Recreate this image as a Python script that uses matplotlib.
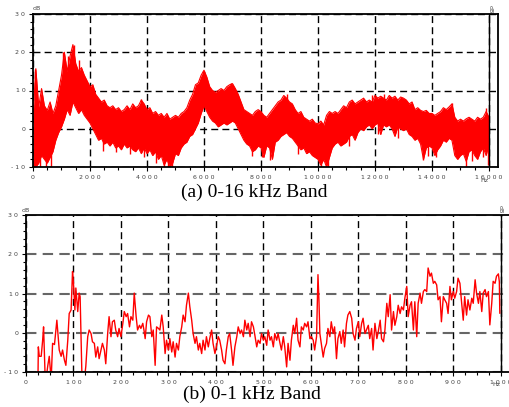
import matplotlib
matplotlib.use('Agg')
import matplotlib.pyplot as plt
from matplotlib.ticker import MultipleLocator
import numpy as np

# (a) 0-16 kHz: upper / lower edge of the red band, one value every 100 Hz
band_f = np.arange(0, 16001, 100)
band_hi = [
    3, 15.7, 5.7, 10.5, 6, 4.8, 7, 4, 6, 10,
    14, 20, 15, 19, 22, 17, 15, 16, 14, 12.5,
    11, 11.5, 9, 8, 7, 7.5, 6, 5.5, 6, 5,
    5.5, 4.5, 5, 6, 5, 6.5, 5.5, 6, 7.5, 6.5,
    5, 5.5, 4, 4.5, 3.5, 4, 3, 4, 2.5, 3,
    3.5, 3, 4, 4.5, 5.5, 7.5, 9, 11.5, 12, 14,
    15.3, 13.5, 11, 10, 9.5, 10, 10.5, 10, 11, 11.5,
    11.8, 10.5, 9, 7, 5, 4.5, 4, 3.5, 4.5, 5,
    4.5, 3.5, 3, 4, 5, 6, 7, 7.5, 8.7, 8,
    7, 6.5, 5, 4, 4.5, 3, 2.5, 2, 2.5, 1.5,
    1.3, 2, 1, 3.5, 4.5, 4, 4.5, 4, 5, 6,
    5.5, 7, 7.5, 6.5, 7, 7.5, 8, 7, 7.5, 7,
    8.7, 8, 8.5, 8, 7.5, 8.7, 8, 8.5, 7.5, 8.3,
    8, 7.5, 6.5, 7, 5, 5.5, 4.8, 4.5, 4.8, 4,
    4, 3.5, 4, 4.5, 5.5, 5, 5.7, 6.5, 3, 2,
    2.5, 2, 2.6, 3, 2.5, 2, 3, 2.5, 3, 4.5,
    3]
band_lo = [
    -10, -10, -9, -7, -8, -9, -7.5, -6, -3, -1,
    0.5, 2.5, 5, 3.5, 7, 5.5, 4, 5, 3.5, 2.5,
    1.5, 0, -1.5, -3, -2.5, -4, -3.5, -4.5, -3.5, -5,
    -4.5, -5.5, -4, -5, -4.5, -5.5, -6, -5, -6.5, -5,
    -6.5, -5.5, -7, -6, -8, -7, -9.5, -8, -10, -9,
    -6.5, -7, -5, -4, -3.5, -2, -1.5, 0, 1.5, 4,
    6, 4.5, 3, 2, 1.5, 0.5, 1, 1.5, 1, 1.5,
    2, 1.5, 0, -1.5, -3, -4, -4.5, -6, -5.5, -4.5,
    -5, -7.5, -4.5, -5, -8, -3.5, -3, -2, -1.5, -1,
    -2, -2.5, -3.5, -4.5, -5.5, -5, -6.5, -6, -7, -7.5,
    -8, -9.5, -8, -10, -7.5, -5, -4, -3.5, -4.5, -4,
    -3.5, -2, -1.5, -3, -1, 0, -0.5, 0.5, 1, 0,
    1, 1.5, -1.5, 1, 0.5, 1, 0, -2, 0.5, 0,
    -0.5, 0, -1.5, -2, -3, -2.5, -4, -8, -5, -4.5,
    -5, -7, -5.5, -4.5, -3, -3.5, -2.5, -3, -7, -8,
    -7, -6.5, -8.5, -6, -5.5, -7, -8, -6, -5, -7,
    -4]

# single spikes sticking out of the band: frequency, tip, where it leaves the band
spike_f = [50, 250, 470, 620, 2450, 2900, 3400, 3900, 4300, 4600, 4750, 4880,
           7700, 8050, 8300, 9300, 10100, 10350, 11100, 12100, 12800, 13700, 13850,
           14150, 15200, 15400, 15800, 15950,
           82, 1040, 1230, 1435, 1600, 3800, 5950, 6950, 8900, 11900, 12300, 14700, 15900]
spike_tip = [-10.5, -10.5, -10.5, -10, -5.7, -6.2, -6.5, -7.5, -9, -10.5, -10.5, -10.5,
             -7, -7.5, -8.3, -6.5, -10.5, -10.5, -4.5, -1.5, -2.5, -8.3, -7,
             -7.5, -10.5, -8.5, -7.5, -9.5,
             15.7, 20, 19, 22, 18, 7.8, 15, 12, 9, 8.7, 9.2, 6.8, 5.3]
spike_base = [0, 0, 0, 0, 0, 0, 0, 0, 0, 0, 0, 0,
              0, 0, 0, 0, 0, 0, 2, 3, 3, 0, 0,
              0, 0, 0, 0, 0,
              0, 8, 8, 10, 8, 0, 6, 3, 0, 2, 2, 0, 0]

# (b) 0-1 kHz: trace
low_f = [
    25, 26, 28, 32, 35, 37, 40, 42, 46, 49, 53, 56, 60, 65, 70, 74, 77, 81, 84, 88,
    91, 95, 98, 100, 103, 105, 109, 112, 114, 118, 123, 126, 130, 133, 137, 140, 144, 147, 151, 154,
    158, 161, 165, 168, 172, 175, 179, 182, 186, 189, 193, 196, 200, 204, 207, 211, 214, 218, 221, 225,
    228, 232, 235, 239, 242, 246, 249, 251, 254, 258, 261, 265, 268, 272, 275, 279, 282, 286, 289, 293,
    296, 300, 303, 307, 310, 314, 317, 321, 324, 328, 331, 335, 338, 342, 345, 349, 352, 356, 359, 363,
    366, 370, 373, 377, 380, 384, 387, 391, 394, 398, 401, 405, 408, 412, 415, 419, 422, 426, 429, 433,
    436, 440, 444, 447, 451, 454, 458, 461, 465, 468, 472, 475, 479, 482, 486, 489, 493, 496, 500, 503,
    507, 510, 514, 517, 521, 524, 528, 531, 535, 538, 542, 545, 549, 552, 556, 559, 563, 566, 570, 573,
    577, 580, 584, 587, 591, 594, 598, 601, 605, 608, 612, 615, 617, 619, 622, 626, 629, 633, 636, 640,
    643, 647, 650, 654, 657, 661, 664, 668, 671, 675, 678, 682, 686, 689, 693, 696, 700, 703, 707, 710,
    714, 717, 721, 724, 728, 731, 735, 739, 742, 746, 749, 753, 756, 760, 763, 767, 770, 774, 777, 781,
    784, 788, 791, 795, 798, 802, 805, 809, 812, 816, 819, 823, 826, 830, 833, 837, 840, 844, 847, 851,
    854, 858, 861, 865, 868, 872, 875, 879, 882, 886, 889, 893, 896, 900, 903, 907, 910, 914, 917, 921,
    924, 928, 931, 935, 939, 942, 946, 949, 953, 956, 960, 963, 967, 970, 974, 977, 981, 984, 988, 991,
    995, 997, 998]
low_db = [
    -14, -3.6, -6, -6, -2, 1.5, -10, -12, -8.3, -6, -12, -2.7, -3, 3.2, -4.4, -6, -4.4, -7, -8.3, -1.9,
    4.9, 5.8, 15.6, 12.6, 5.8, 11.4, 5.4, 10.1, 9.2, -12, -12, -8.5, -1, 0.7, -0.2, -2.3, -2.7, -6.2, -3.6, -6.6,
    -4.4, -2.7, -4.4, -7.9, -0.2, 4.1, -1, 2.8, 3.2, 0.7, -1, 1.1, -1, 2.4, 5.4, 4.1, 4.9, 1.5, 4.1, 3.2,
    10.1, 4.1, 0.7, 1.9, 1.1, 2.4, 0.3, -1.5, 2.8, 4.5, 4.1, -1, 0.7, -8.3, 1.5, 1.1, 0.7, 4.5, 1.5, -5.3,
    -1.9, -4.4, -1.5, -4.9, -2.3, -6.2, -2.7, -4.4, -1, 1.5, 4.5, 2.8, 7.0, 10.1, 6.7, 3.2, -0.2, -2.7, -1, -4.4,
    -2.7, -5.3, -1.9, -4.4, -1, -3.6, -1.5, 0.7, -2.7, -5.3, -3.6, -1, -1.9, -4.4, -7, -7.9, -4.4, -1, -0.2, -4.4,
    -8.3, -3.6, -1, 1.5, -0.2, 0.7, -1, 3.2, 0.7, 2.4, -1, 2.8, 1.5, -0.6, -3.6, -1.9, -2.7, -0.2, -1.9, -1,
    -3.2, 0.7, -1.9, -1, -3.6, -0.2, -1.9, -0.2, -2.7, -4.4, -1, -3.6, -8.7, -2.7, -7, -1.9, 1.9, -0.2, 3.7, -1.9,
    -3.6, 1.5, 0.7, 2.4, 1.5, 2.8, -1.5, -1, -1.9, -4.4, -1, 14.8, 8.4, -0.2, -2.7, -6.2, -4, -2.7, 1.1, -1,
    2.8, -0.2, 1.5, -6.6, -1.5, 0.3, -2.7, 0.7, -3.6, 2.4, 4.5, 5.4, 3.7, -0.2, -1.9, 1.1, 2.8, -1, 2.4, 3.7,
    -0.2, 0.7, 1.9, -1.5, 1.1, -4.4, 2.4, -1.5, 0.3, 3.2, -1.5, -2.3, 0.7, 7.5, 4.1, 9.7, 0.7, 5.4, 1.9, 4.1,
    7.0, 4.9, 6.6, 5.8, 8.8, 11.8, 4.1, 7.0, 7.9, 0.7, 7.9, -1, 7.5, 10.1, 7.5, 10.5, 11, 10.5, 16.5, 14.4,
    15.2, 12.6, 13.1, 12.2, 8.4, 9.2, 2.8, 9.2, 8.4, 7.5, 4.9, 11.8, 8.4, 10.5, 8.8, 10.5, 13.9, 12.6, 8.4, 3.2,
    9.2, 4.5, 8.4, 5.8, 8.8, 7.5, 13.5, 10.1, 7.5, 10.5, 5.4, 10.1, 11, 9.2, 10.5, 2, 7.5, 13.1, 12.6, 14.4,
    15, 13, 5]

y_ticks = [-10, 0, 10, 20, 30]
top_xticks = list(range(0, 16001, 2000))
low_xticks = list(range(0, 1001, 100))

W, H = 510, 407
fig = plt.figure(figsize=(W / 100, H / 100), dpi=100)


def px_axes(left, top, right, bottom):
    return fig.add_axes([left / W, 1 - bottom / H, (right - left) / W, (bottom - top) / H])


def spaced(v):
    return ' '.join(str(v))


def style(ax, xmax, xticks, xminor, hcolor, hlw):
    ax.set_xlim(0, xmax)
    ax.set_ylim(-10, 30)
    ax.set_xticks(xticks)
    ax.set_xticklabels([spaced(t) for t in xticks])
    ax.set_yticks(y_ticks)
    ax.set_yticklabels([spaced(t) for t in y_ticks])
    ax.xaxis.set_minor_locator(MultipleLocator(xminor))
    ax.yaxis.set_minor_locator(MultipleLocator(2))
    ax.tick_params(which='both', direction='out', width=0.8, colors='k',
                   labelsize=4.5, labelcolor='#444', pad=2.5)
    ax.tick_params(which='major', length=3)
    ax.tick_params(which='minor', length=2)
    ax.set_axisbelow(True)
    ax.xaxis.grid(True, color='k', lw=1.0, ls=(0, (5, 3)))
    ax.yaxis.grid(True, color=hcolor, lw=hlw, ls=(0, (5, 3)))
    for s in ax.spines.values():
        s.set_linewidth(1.3)
    ax.axvline(xticks[-1], color='k', lw=1.0, zorder=3)


ax1 = px_axes(33, 14, 498, 167)
ax1.fill_between(band_f, band_lo, band_hi, color='#ff0000', lw=0, zorder=2)
ax1.plot(band_f, band_hi, color='#ff0000', lw=0.8, zorder=2)
ax1.plot(band_f, band_lo, color='#ff0000', lw=0.8, zorder=2)
ax1.vlines(spike_f, spike_base, spike_tip, color='#ff0000', lw=1.0, zorder=2)
style(ax1, 16316, top_xticks, 500, 'k', 1.0)

ax2 = px_axes(26, 215, 515, 372)
ax2.plot(low_f, low_db, color='#ff0000', lw=1.0, zorder=2)
style(ax2, 1030, low_xticks, 25, '#666', 1.5)
ax2.spines['right'].set_visible(False)

small = dict(fontsize=4.5, color='#444', ha='center', va='center')
fig.text(37 / W, 1 - 9 / H, 'dB', **small)
fig.text(484 / W, 1 - 180 / H, 'Hz', **small)
fig.text(490 / W, 1 - 9 / H, 'dB', rotation=270, **small)
fig.text(26 / W, 1 - 210 / H, 'dB', **small)
fig.text(496 / W, 1 - 385 / H, 'Hz', **small)
fig.text(500 / W, 1 - 209 / H, 'dB', rotation=270, **small)

cap = dict(fontsize=14, family='Liberation Serif', ha='center', va='center')
fig.text(254 / W, 1 - 192 / H, '(a) 0-16 kHz Band', **cap)
fig.text(252 / W, 1 - 394 / H, '(b) 0-1 kHz Band', **cap)

fig.savefig('out.png', dpi=100)
